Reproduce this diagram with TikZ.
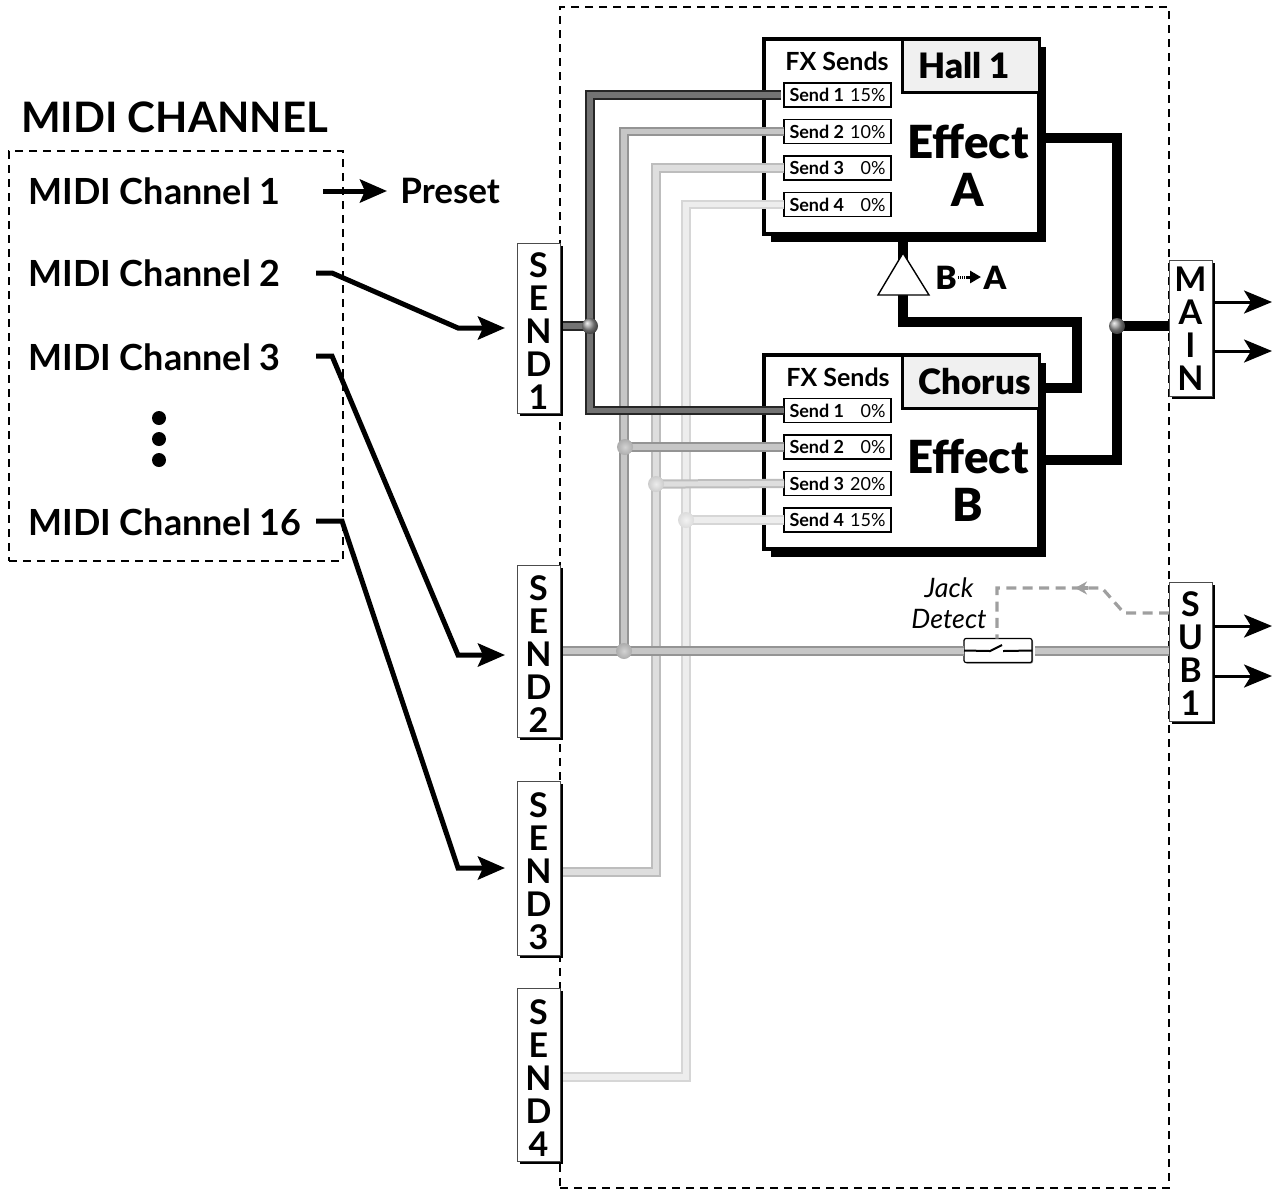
\documentclass[tikz,border=0pt]{standalone}
\usepackage{fontspec}
\setmainfont{Lato}
\newfontfamily\heavyfont{Lato Black}
\usetikzlibrary{arrows.meta,positioning,calc,shadows}
\definecolor{busA}{gray}{0.45}
\definecolor{busB}{gray}{0.58}
\definecolor{busC}{gray}{0.74}
\definecolor{busD}{gray}{0.84}
\definecolor{tabfill}{gray}{0.94}
\newcommand{\rowtxt}[2]{\hbox to 48pt{\textbf{#1}\hfil #2}}
\newcommand{\toplift}{\rule{0pt}{15.5pt}}
\tikzset{
  frame/.style={rectangle, draw=black, line width=0.7pt, dash pattern=on 4pt off 3pt, inner sep=0pt, outer sep=0pt},
  portbox/.style={rectangle, draw=black!70, line width=0.5pt, fill=white, align=center, inner sep=0pt, outer sep=0pt,
                  minimum width=21.5pt, minimum height=#1, font=\fontsize{17}{16.5}\selectfont\bfseries,
                  general shadow={fill=black, shadow xshift=1.5pt, shadow yshift=-1.5pt}},
  fxbox/.style={rectangle, draw=black, line width=1.75pt, fill=white, inner sep=0pt, outer sep=0pt,
                general shadow={fill=black, shadow xshift=3.25pt, shadow yshift=-4pt}},
  nametab/.style={rectangle, draw=black, line width=1.5pt, fill=tabfill, inner sep=0pt, outer sep=0pt,
                  minimum height=26.5pt, font=\fontsize{17.5}{18}\heavyfont},
  fxname/.style={align=center, inner sep=0pt, font=\fontsize{22.8}{24}\heavyfont},
  sendrow/.style={rectangle, draw=black, line width=0.7pt, fill=white, inner sep=0pt, outer sep=0pt,
                  minimum width=53.5pt, minimum height=12pt, font=\fontsize{9}{10}\selectfont},
  sendhead/.style={inner sep=0pt, font=\fontsize{12.5}{14}\selectfont\bfseries},
  midilabel/.style={anchor=west, inner sep=0pt, font=\fontsize{18}{20}\selectfont\bfseries},
  wire/.style={line width=2.5pt, -{Stealth[length=13.5pt,width=11.5pt,inset=2.5pt]}, shorten >=6pt},
  outarr/.style={line width=1.5pt, -{Stealth[length=14pt,width=11.5pt,inset=3.5pt]}},
  thick wire/.style={line width=5pt, draw=black},
  bus/.style 2 args={draw=#1, double=#2, line width=1pt, double distance=2.6pt, shorten <=1.5pt},
  knob/.style={circle, inner sep=0pt, minimum size=8pt, ball color=#1},
  softknob/.style 2 args={circle, inner sep=0pt, minimum size=8pt, shade, shading=radial, inner color=#1, outer color=#2},
  dotmark/.style={circle, fill=black, inner sep=0pt, minimum size=7pt},
  detect/.style={draw=gray!75, line width=1.6pt, dash pattern=on 5pt off 3.2pt},
}
\begin{document}
\begin{tikzpicture}[x=0.5pt, y=-0.5pt, node distance=6.25pt]
\useasboundingbox (0,0) rectangle (1278,1190);
% dashed frames
\node[frame, minimum width=304.5pt, minimum height=590.5pt] (unit) at (864.5,597.5) {};
\node[frame, minimum width=167pt, minimum height=205pt] (chan) at (176,356) {};
\node[font=\fontsize{21}{24}\selectfont\bfseries, inner sep=0pt] (title) at (174.5,117) {MIDI CHANNEL};
\node[midilabel] (ch1) at (28,191) {MIDI Channel 1};
\node[midilabel] (ch2) at (28,273) {MIDI Channel 2};
\node[midilabel] (ch3) at (28,357) {MIDI Channel 3};
\node[midilabel] (ch16) at (28,522) {MIDI Channel 16};
\node[dotmark] (d1) at (159,418) {};
\node[dotmark] (d2) at (159,439) {};
\node[dotmark] (d3) at (159,460) {};
\node[font=\fontsize{17.5}{20}\selectfont\bfseries, inner sep=0pt, anchor=west] (preset) at (400,191) {Preset};
% effect boxes
\node[fxbox, minimum width=137.5pt, minimum height=97.5pt] (ea) at (901.5,136.5) {};
\node[fxbox, minimum width=137.5pt, minimum height=97pt] (eb) at (901.5,452) {};
\node[nametab, minimum width=68.5pt, anchor=north east] (hall) at (ea.north east) {Hall 1\hspace*{6pt}};
\node[nametab, minimum width=68.5pt, anchor=north east] (chorus) at (eb.north east) {\hspace*{4pt}Chorus};
\node[fxname] (ela) at (968,165) {Effect\\A};
\node[fxname] (elb) at (968,480) {Effect\\B};
% send rows
\node[sendrow] (fa1) at (837.5,95) {\rowtxt{Send 1}{15\%}};
\node[sendrow, below=of fa1] (fa2) {\rowtxt{Send 2}{10\%}};
\node[sendrow, below=of fa2] (fa3) {\rowtxt{Send 3}{0\%}};
\node[sendrow, below=of fa3] (fa4) {\rowtxt{Send 4}{0\%}};
\node[sendrow] (fb1) at (837.5,410.5) {\rowtxt{Send 1}{0\%}};
\node[sendrow, below=of fb1] (fb2) {\rowtxt{Send 2}{0\%}};
\node[sendrow, below=of fb2] (fb3) {\rowtxt{Send 3}{20\%}};
\node[sendrow, below=of fb3] (fb4) {\rowtxt{Send 4}{15\%}};
\node[sendhead] (ha) at (837,61) {FX Sends};
\node[sendhead] (hb) at (838,377) {FX Sends};
% ports
\node[portbox=85pt] (send1) at (538.5,328) {\toplift S\\E\\N\\D\\1};
\node[portbox=86pt] (send2) at (538.5,651) {\toplift S\\E\\N\\D\\2};
\node[portbox=87pt] (send3) at (538.5,868) {\toplift S\\E\\N\\D\\3};
\node[portbox=86.5pt] (send4) at (538.5,1074.5) {\toplift S\\E\\N\\D\\4};
\node[portbox=68pt] (main) at (1190.5,328) {\rule{0pt}{13pt}M\\A\\I\\N};
\node[portbox=69.5pt] (sub1) at (1190.5,651.5) {\rule{0pt}{14.5pt}S\\U\\B\\1};
% junctions and switch
\coordinate (j1) at (590,326);
\coordinate (j2) at (624,651);
\coordinate (j2b) at (625,447);
\coordinate (j3) at (656,484);
\coordinate (j4) at (686,520);
\coordinate (jm) at (1117,326);
\node[rectangle, draw=black, line width=0.6pt, fill=white, rounded corners=1pt, inner sep=0pt, outer sep=0pt,
      minimum width=34pt, minimum height=12pt,
      general shadow={fill=gray, shadow xshift=0.5pt, shadow yshift=-0.5pt}] (swt) at (998,650.5) {};
\coordinate (b3) at (656,872);
\coordinate (b4) at (686,1077);
% buses
\draw[bus={busD}{gray!14}] (send4.east |- b4) -- (b4) |- (fa4.west);
\draw[bus={busD}{gray!14}] (j4) -- (fb4.west);
\draw[bus={busC}{gray!26}] (send3.east |- b3) -- (b3) |- (fa3.west);
\draw[bus={busC}{gray!26}] (j3) -- (fb3.west);
\draw[bus={busB}{gray!45}] (j2) |- (fa2.west);
\draw[bus={busB}{gray!45}] (j2b) -- (fb2.west);
\draw[bus={busB}{gray!45}] (send2.east |- j2) -- (swt.west |- j2);
\draw[bus={busB}{gray!45}] (swt.east |- j2) -- (sub1.west |- j2);
\draw[bus={black!85}{busA}] (fa1.west) -| (j1) |- (fb1.west);
\draw[bus={black!85}{busA}] (send1.east |- j1) -- (j1);
% effect outputs
\coordinate (ja) at (1117,138);
\coordinate (jb) at (1117,460);
\coordinate (fbk) at (1077,322);
\draw[thick wire] (ea.east |- ja) -- (ja) -- (jb) -- (eb.east |- jb);
\draw[thick wire] (jm) -- (main.west |- jm);
\draw[thick wire] (903,238) -- (903,260);
\draw[thick wire] (903,290) |- (fbk) |- (eb.east |- 0,388);
\node[knob=gray!80] (kj1) at (j1) {};
\node[knob=gray!80] (kjm) at (jm) {};
\node[softknob={gray!35}{gray!65}] (kj2) at (j2) {};
\node[softknob={gray!35}{gray!65}] (kj2b) at (j2b) {};
\node[softknob={gray!15}{gray!40}] (kj3) at (j3) {};
\node[softknob={gray!10}{gray!28}] (kj4) at (j4) {};
% amp
\draw[line width=0.7pt, fill=white, line join=miter] (903,253) -- (929,295) -- (878,295) -- cycle;
\node[font=\fontsize{16}{18}\heavyfont, inner sep=0pt] (lb) at (946,278) {B};
\node[font=\fontsize{16}{18}\heavyfont, inner sep=0pt] (la) at (995,278) {A};
\draw[line width=1.5pt, dash pattern=on 0.5pt off 0.5pt] (958,277) -- (967,277);
\draw[line width=1.5pt, -{Stealth[length=5.5pt,width=6pt,inset=0pt]}] (966,277) -- (981,277);
% switch contacts
\draw[line width=1pt] (swt.west) -- (990,651) -- (1002,645);
\draw[line width=1pt] (1003,651) -- (swt.east);
\node[font=\fontsize{13.4}{15.5}\selectfont\itshape, align=center, inner sep=0pt] (jack) at (949,603) {Jack\\Detect};
% detect line
\coordinate (dt) at (997,588);
\draw[detect] (sub1.west |- 0,613) -- (1124,613) -- (1102,588) -- (dt) -- (swt.north -| dt);
\draw[detect, solid, -{Stealth[length=6pt,width=6.5pt]}] (1088,588) -- (1075,588);
% wires
\coordinate (c1) at (323,191);
\coordinate (c2) at (316,273);
\coordinate (c3) at (316,356);
\coordinate (c16) at (316,521);
\draw[wire, shorten >=0pt] (c1) -- (387,191);
\draw[wire] (c2) -- (332,273) -- (458,328) -- (send1.west);
\draw[wire] (c3) -- (332,356) -- (458,655) -- ([yshift=-2pt]send2.west);
\draw[wire] (c16) -- (342,521) -- (458,868) -- (send3.west);
% outputs
\draw[outarr] (main.east |- 0,302) ++(3,0) -- (1272,302);
\draw[outarr] (main.east |- 0,351) ++(3,0) -- (1272,351);
\draw[outarr] (sub1.east |- 0,626) ++(3,0) -- (1272,626);
\draw[outarr] (sub1.east |- 0,676) ++(3,0) -- (1272,676);
\end{tikzpicture}
\end{document}
